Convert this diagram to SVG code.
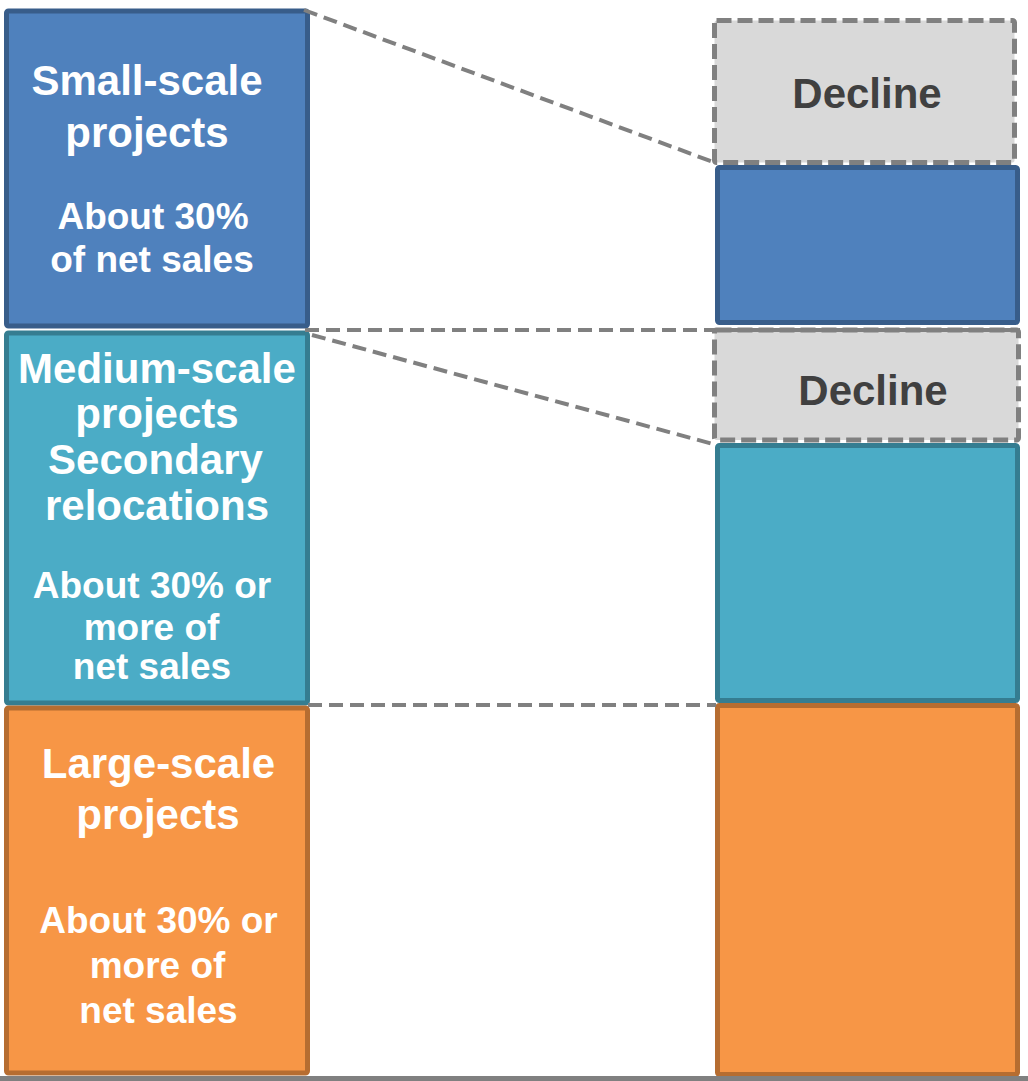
<svg xmlns="http://www.w3.org/2000/svg" width="1028" height="1081" viewBox="0 0 1028 1081">
  <style>
    .lbl { font-family: "Liberation Sans", Arial, sans-serif; font-weight: bold; fill: #FFFFFF; text-anchor: middle; }
    .big { font-size: 42px; }
    .sub { font-size: 37px; }
    .dec { font-family: "Liberation Sans", Arial, sans-serif; font-weight: bold; font-size: 42px; fill: #404040; text-anchor: middle; }
    .blue { fill: #4F81BD; stroke: #385D8A; stroke-width: 5; }
    .teal { fill: #4BACC6; stroke: #357D91; stroke-width: 5; }
    .orange { fill: #F79646; stroke: #B66D31; stroke-width: 5; }
    .decline { fill: #D9D9D9; stroke: #808080; stroke-width: 5; stroke-dasharray: 15 6; }
    .link { fill: none; stroke: #808080; stroke-width: 4; stroke-dasharray: 14 7; }
  </style>
  <rect width="1028" height="1081" fill="#FFFFFF"/>

  <!-- left column: current share of business -->
  <g id="small-scale">
    <rect class="blue" x="6.5" y="11" width="301" height="315" rx="2"/>
    <text class="lbl big" x="147" y="95">Small-scale</text>
    <text class="lbl big" x="147" y="147">projects</text>
    <text class="lbl sub" x="153" y="229">About 30%</text>
    <text class="lbl sub" x="152" y="272">of net sales</text>
  </g>
  <g id="medium-scale">
    <rect class="teal" x="6.5" y="333" width="301" height="370" rx="2"/>
    <text class="lbl big" x="157" y="383">Medium-scale</text>
    <text class="lbl big" x="157" y="428">projects</text>
    <text class="lbl big" x="155.5" y="474">Secondary</text>
    <text class="lbl big" x="157" y="520">relocations</text>
    <text class="lbl sub" x="152" y="598">About 30% or</text>
    <text class="lbl sub" x="151.5" y="640">more of</text>
    <text class="lbl sub" x="152" y="679">net sales</text>
  </g>
  <g id="large-scale">
    <rect class="orange" x="6.5" y="708" width="301" height="365" rx="2"/>
    <text class="lbl big" x="158.5" y="778">Large-scale</text>
    <text class="lbl big" x="158" y="829">projects</text>
    <text class="lbl sub" x="158.5" y="933">About 30% or</text>
    <text class="lbl sub" x="157.5" y="978">more of</text>
    <text class="lbl sub" x="158.5" y="1023">net sales</text>
  </g>

  <!-- right column: future share -->
  <g id="decline-small">
    <rect class="decline" x="714.5" y="20.5" width="300" height="142" rx="2"/>
    <text class="dec" x="867" y="108">Decline</text>
  </g>
  <g id="small-future">
    <rect class="blue" x="717.5" y="167.5" width="300" height="155" rx="2"/>
  </g>
  <g id="decline-medium">
    <rect class="decline" x="714.5" y="330" width="304" height="110" rx="2"/>
    <text class="dec" x="873" y="405">Decline</text>
  </g>
  <g id="medium-future">
    <rect class="teal" x="717.5" y="445.5" width="300" height="255" rx="2"/>
  </g>
  <g id="large-future">
    <rect class="orange" x="717.5" y="705.5" width="300" height="369" rx="2"/>
  </g>

  <!-- dashed guide lines between the columns -->
  <g id="connectors">
    <line class="link" x1="304" y1="10" x2="713" y2="162"/>
    <line class="link" x1="305" y1="330" x2="1020" y2="330"/>
    <line class="link" x1="312" y1="335" x2="713" y2="444"/>
    <line class="link" x1="308" y1="705" x2="716" y2="705"/>
  </g>

  <!-- baseline -->
  <rect x="0" y="1076" width="1028" height="5" fill="#808080"/>
</svg>
